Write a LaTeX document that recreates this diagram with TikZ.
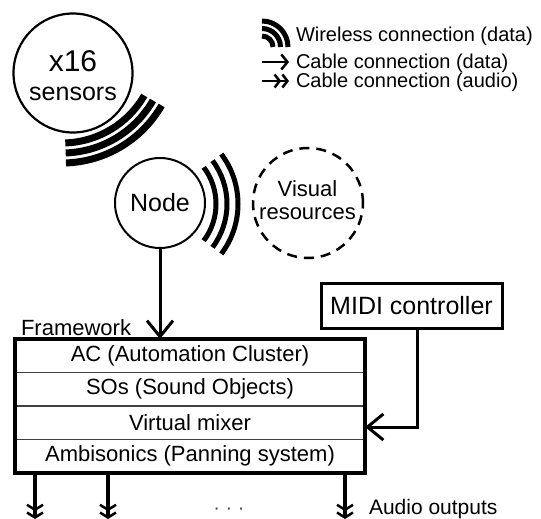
\documentclass[tikz,border=0pt]{standalone}
\usepackage{fontspec}
\setmainfont{Liberation Sans}
\usetikzlibrary{arrows.meta,fit}
\begin{document}
\begin{tikzpicture}[x=1pt,y=-1pt,
  every node/.style={inner sep=0pt,outer sep=0pt},
  fs/.style={font=\fontsize{#1}{#1}\selectfont},
  wave/.style={line width=#1},
  conn/.style={line width=3pt,-{Straight Barb[length=16pt,width=26pt]}},
  audio/.style={line width=3.5pt,-{Straight Barb[length=5pt,width=16pt,line width=2.5pt]Straight Barb[length=5pt,width=16pt,line width=2.5pt]}},
  rowbox/.style={minimum width=350pt,minimum height=33.5pt,fs=22},
  sepline/.style={line width=1.5pt,black!75}]
\useasboundingbox (0,0) rectangle (541,519);

% sensors
\node[circle,draw,line width=2.2pt,minimum size=119pt] (sensors) at (73,73) {};
\node[fs=30,anchor=base] (x16) at (73,71) {x16};
\node[fs=25,anchor=base] (sens) at (73,100) {sensors};
\foreach \r in {95,105,115}
  \draw[wave=7pt] (62,48) ++(30:\r) arc[start angle=30,end angle=88,radius=\r];

% node
\node[circle,draw,line width=2pt,minimum size=90pt,fs=25] (node) at (160,203) {Node};
\foreach \r in {61,72,83}
  \draw[wave=5pt] (155,204) ++(-37:\r) arc[start angle=-37,end angle=37,radius=\r];

% visual resources
\node[circle,draw,line width=2.5pt,dash pattern=on 10pt off 7pt,minimum size=110pt] (vis) at (308,203) {};
\node[fs=22,anchor=base] (visa) at (307.5,196) {Visual};
\node[fs=22,anchor=base] (visb) at (307.5,219) {resources};

% legend
\foreach \r in {11,18.5,26}
  \draw[wave=5pt] (262,47) ++(-90:\r) arc[start angle=-90,end angle=0,radius=\r];
\node[fs=20,anchor=base west] (lw) at (296,42) {Wireless connection (data)};
\node[fs=20,anchor=base west] (lc) at (296,69) {Cable connection (data)};
\node[fs=20,anchor=base west] (la) at (296,88) {Cable connection (audio)};
\coordinate (l1s) at (262,62);
\coordinate (l1e) at (289,62);
\coordinate (l2s) at (262,81);
\coordinate (l2e) at (289,81);
\draw[line width=2.5pt,-{Straight Barb[length=6pt,width=15pt]}] (l1s) -- (l1e);
\draw[line width=2.5pt,-{Straight Barb[length=5pt,width=13pt]Straight Barb[length=5pt,width=13pt]}] (l2s) -- (l2e);

% MIDI
\node[draw,line width=3pt,minimum width=181pt,minimum height=45pt,fs=25] (midi) at (411.5,305.5) {MIDI controller};

% framework
\node[anchor=base west,fs=22] (fwl) at (21,335) {Framework};
\node[rowbox] (r1) at (190,355.75) {AC (Automation Cluster)};
\node[rowbox] (r2) at (190,389.25) {SOs (Sound Objects)};
\node[rowbox] (r3) at (190,422.75) {Virtual mixer};
\node[rowbox] (r4) at (190,456.25) {Ambisonics (Panning system)};
\draw[sepline] (r1.south west) -- (r1.south east);
\draw[sepline] (r2.south west) -- (r2.south east);
\draw[sepline] (r3.south west) -- (r3.south east);
\node[draw,line width=3.5pt,fit=(r1)(r4)] (fw) {};

% connectors
\draw[conn] (node.south) -- (node.south |- fw.north);
\coordinate (mc) at (417,427);
\draw[conn] (midi.south -| mc) -- (mc) -- (mc -| fw.east);

% audio outputs
\coordinate (o1) at (35,519);
\coordinate (o2) at (108,519);
\coordinate (o3) at (345,519);
\draw[audio] (o1 |- fw.south) -- (o1);
\draw[audio] (o2 |- fw.south) -- (o2);
\draw[audio] (o3 |- fw.south) -- (o3);
\node[fs=20,anchor=base,text=black!70] (dots) at (229,514) {· · ·};
\node[fs=21,anchor=base west] (ao) at (369,514) {Audio outputs};
\end{tikzpicture}
\end{document}
